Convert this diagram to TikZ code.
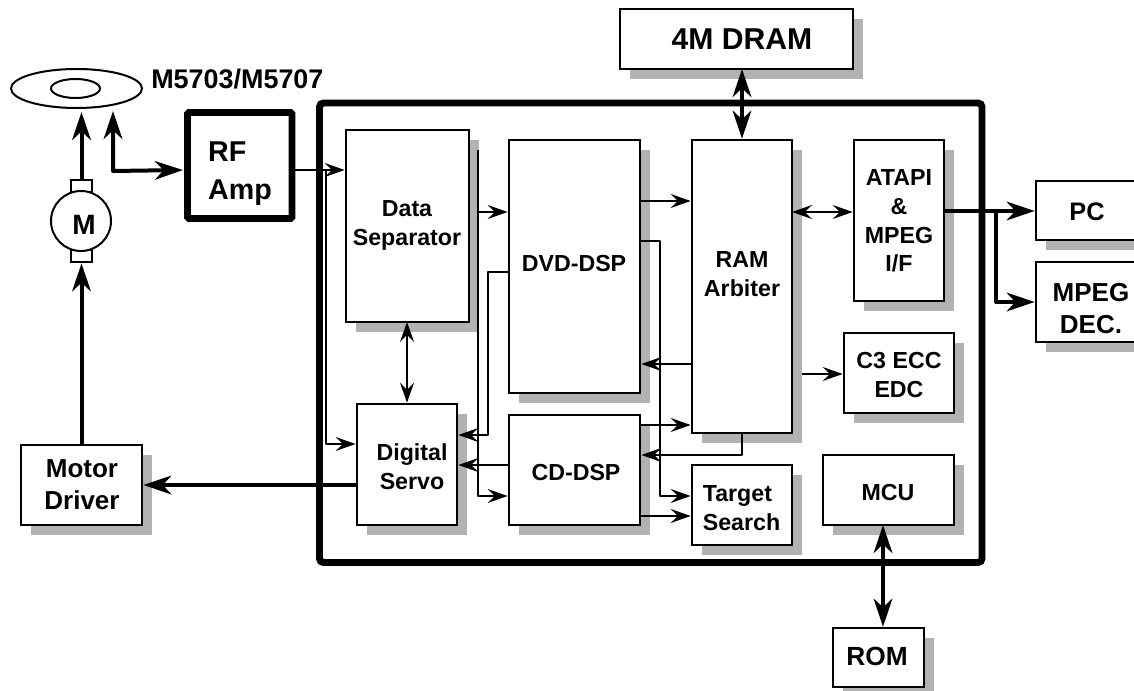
\documentclass[tikz,border=0pt]{standalone}
\usepackage{fontspec}
\setmainfont{Liberation Sans}
\usetikzlibrary{arrows.meta,shapes.geometric}
\definecolor{boxshadow}{HTML}{B2B2B2}
\tikzset{
  x=0.75pt,y=-0.75pt,
  boxshape/.style={draw=black,fill=white,line width=1.5pt,rectangle,inner sep=0pt,outer sep=0pt},
  lbl/.style={font=\bfseries\fontsize{17.4}{21.6}\selectfont,align=center,inner sep=0pt},
  cn/.style={line width=1.5pt,line join=round,shorten >=1pt,shorten <=0pt,
     >={Stealth[length=15pt,width=10.5pt,inset=5.5pt]}},
  cnT/.style={line width=3pt,line join=round,shorten >=1pt,
     >={Stealth[length=21pt,width=14pt,inset=6.5pt]}},
}
% [label options] name x1 y1 x2 y2 textx texty text
\newcommand{\bx}[9][]{\bxx{#2}{#3}{#4}{#5}{#6}{#7}{#8}{#9}{#1}}
\newcommand{\bxx}[9]{%
  \fill[boxshadow] (#2+10,#3+10) rectangle (#4+10,#5+10);
  \node[boxshape,minimum width={(#4-#2)*0.75pt},minimum height={(#5-#3)*0.75pt}] (#1) at ({(#2+#4)/2},{(#3+#5)/2}) {};
  \node[lbl,#9] (#1-t) at (#6,#7) {#8};
}
\begin{document}
\begin{tikzpicture}
\useasboundingbox (0,0) rectangle (1134,691);
\clip (0,0) rectangle (1134,691);
% main frame
\node[draw=black,line width=5.2pt,rounded corners=3pt,minimum width={(982-319.5)*0.75pt},minimum height={(562.5-103)*0.75pt},inner sep=0pt,outer sep=0pt] (main) at (650.75,332.75) {};
% blocks
\bx{sep}{346}{130}{469}{322}{407}{225.5}{Data\\Separator}
\bx{dvd}{509}{140}{640}{393}{574}{264}{DVD-DSP}
\bx{ram}{692}{140}{792}{433}{742}{274}{RAM\\Arbiter}
\bx{atapi}{854}{140}{944}{301}{899}{221}{ATAPI\\\&\\MPEG\\I/F}
\bx{ecc}{844}{333}{954}{413}{899}{375}{C3 ECC\\EDC}
\bx{servo}{357}{404}{457}{525}{412}{467}{Digital\\Servo}
\bx{cd}{509}{415}{640}{525}{576}{473}{CD-DSP}
\bx[align=left]{target}{692}{465}{792}{545}{741.5}{508}{Target\\Search}
\bx{mcu}{823}{455}{954}{525}{888}{493}{MCU}
\bx[font=\bfseries\fontsize{19.7}{24}\selectfont]{rom}{833}{628}{924}{687}{877}{656}{ROM}
\bx[font=\bfseries\fontsize{22.6}{27}\selectfont]{dram}{620}{9}{853}{69}{742}{39.5}{4M DRAM}
\bx[font=\bfseries\fontsize{19}{23}\selectfont]{pc}{1036}{181}{1150}{240}{1087}{212}{PC}
\bx[font=\bfseries\fontsize{19.5}{24}\selectfont]{dec}{1036}{262}{1150}{342}{1091}{309}{MPEG\\DEC.}
\bx[font=\bfseries\fontsize{19.5}{24}\selectfont]{driver}{21}{445}{142}{525}{82}{485}{Motor\\Driver}
% RF amplifier
\node[draw=black,fill=white,line width=4.9pt,rounded corners=1pt,minimum width={(292-187.5)*0.75pt},minimum height={(218.5-112.5)*0.75pt},inner sep=0pt,outer sep=auto] (rf) at (239.75,165.5) {};
\node[font=\bfseries\fontsize{21.5}{28.5}\selectfont,align=left,inner sep=0pt] (rf-t) at (240,174) {RF\\Amp};
% disc and motor
\node[ellipse,draw=black,line width=1.5pt,minimum width={131*0.75pt},minimum height={39*0.75pt},inner sep=0pt,outer sep=0pt] (disc) at (76.5,88.5) {};
\node[ellipse,draw=black,line width=1.5pt,minimum width={49*0.75pt},minimum height={19*0.75pt},inner sep=0pt,outer sep=0pt] (hub) at (75.5,88.5) {};
\node[font=\bfseries\fontsize{20.2}{24}\selectfont,inner sep=0pt,anchor=west] (model) at (151,79) {M5703/M5707};
\node[boxshape,minimum width={21*0.75pt},minimum height={12*0.75pt}] (tabtop) at (81.5,186) {};
\node[boxshape,minimum width={21*0.75pt},minimum height={12*0.75pt}] (tabbot) at (81.5,256) {};
\node[circle,draw=black,fill=white,line width=1.5pt,minimum size={60*0.75pt},inner sep=0pt,outer sep=0pt] (motor) at (81,221) {};
\node[font=\bfseries\fontsize{21}{25}\selectfont,inner sep=0pt] (motor-t) at (84,225) {M};
% free ends
\coordinate (pick) at (113,111);
\coordinate (bus) at (478,150);
\coordinate (ramout) at (802,374);
% thick connectors
\draw[cnT,->,shorten >=3pt] (tabtop.north) -- (tabtop.north |- disc.south);
\draw[cnT,->] (driver.north) -- (tabbot.south -| driver.north);
\draw[cnT,<->] (pick) -- (pick |- 0,171) -- (rf.west |- 0,170);
\draw[cnT,->] (servo.west |- 0,485) -- (driver.east |- 0,485);
\draw[cnT,<->] (dram.south -| ram.north) -- (ram.north);
\draw[cnT,<->] (mcu.south -| 883,0) -- (rom.north -| 883,0);
\draw[cnT,->] (atapi.east |- 0,211) -- (pc.west |- 0,211);
\draw[cnT,->] (996,211) -- (996,302) -- (dec.west |- 0,302);
% thin connectors
\draw[cn,->] (rf.east |- 0,170) -- (sep.west |- 0,170);
\draw[cn,->] (325.5,170) -- (325.5,444) -- (servo.west |- 0,444);
\draw[cn,<->] (sep.south -| 407,0) -- (servo.north -| 407,0);
\draw[cn,->] (bus) -- (bus |- 0,496) -- (cd.west |- 0,496);
\draw[cn,->] (478,212) -- (dvd.west |- 0,212);
\draw[cn,->] (dvd.west |- 0,272) -- (488,272) -- (488,435) -- (servo.east |- 0,435);
\draw[cn,->] (cd.west |- 0,465) -- (servo.east |- 0,465);
\draw[cn,->] (dvd.east |- 0,201) -- (ram.west |- 0,201);
\draw[cn,->] (dvd.east |- 0,241) -- (660,241) -- (660,496) -- (target.west |- 0,496);
\draw[cn,->] (ram.west |- 0,364) -- (dvd.east |- 0,364);
\draw[cn,->] (cd.east |- 0,425) -- (ram.west |- 0,425);
\draw[cn,->] (ram.south) -- (ram.south |- 0,455) -- (cd.east |- 0,455);
\draw[cn,->] (cd.east |- 0,516) -- (target.west |- 0,516);
\draw[cn,<->] (ram.east |- 0,212) -- (atapi.west |- 0,212);
\draw[cn,->] (ramout) -- (ecc.west |- ramout);
\end{tikzpicture}
\end{document}
